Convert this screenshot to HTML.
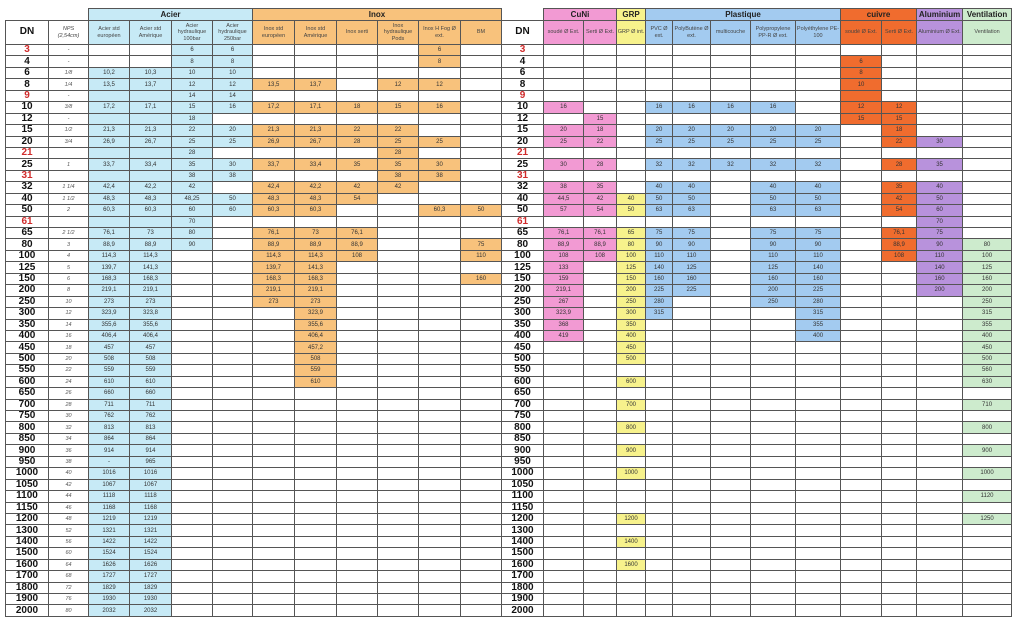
<!DOCTYPE html>
<html><head><meta charset="utf-8"><style>
html,body{margin:0;padding:0;background:#fff;width:1024px;height:629px;overflow:hidden}
table{position:absolute;top:8px;border-collapse:collapse;table-layout:fixed;font-family:"Liberation Sans",sans-serif;color:#333}
td{border:1px solid #555;padding:0;text-align:center;font-size:6px;line-height:8px;overflow:hidden;white-space:nowrap}
tr.g td{height:11px;font-size:8px;font-weight:bold;color:#222}
tr.g td.n{border:none;border-bottom:1px solid #555;background:#fff}
tr.h td{height:23px;font-size:5.5px;line-height:6.5px;white-space:normal;color:#444}
tr.h td.d{font-size:10px;font-weight:bold;color:#111}
tbody tr{height:11.45px}
td.k{font-size:10px;font-weight:bold;color:#111}
td.r{color:#d02b2b}
td.i{font-style:italic;font-size:5.5px;color:#555}
.b{background:#c7eaf6}.o{background:#f8c27c}.p{background:#f29ad3}.y{background:#f7f28c}
.l{background:#a3cbf0}.c{background:#f06c2e}.v{background:#b892dc}.g2{background:#cdebcd}
#L{left:5px;width:496px}#R{left:501px;width:510px}
</style></head><body>
<table id="L">
<colgroup><col style="width:43px"><col style="width:40px"><col style="width:41px"><col style="width:42px"><col style="width:41px"><col style="width:40px"><col style="width:42px"><col style="width:42px"><col style="width:41px"><col style="width:41px"><col style="width:42px"><col style="width:41px"></colgroup>
<tr class="g"><td class="n"></td><td class="n"></td><td colspan="4" class="b">Acier</td><td colspan="6" class="o">Inox</td></tr>
<tr class="h"><td class="d">DN</td><td style="font-style:italic">NPS<br>(2,54cm)</td><td class="b">Acier std européen</td><td class="b">Acier std Amérique</td><td class="b">Acier hydraulique 100bar</td><td class="b">Acier hydraulique 250bar</td><td class="o">Inox std européen</td><td class="o">Inox std Amérique</td><td class="o">Inox serti</td><td class="o">Inox hydraulique Pods</td><td class="o">Inox H Fog Ø ext.</td><td class="o">BM</td></tr>
<tbody>
<tr><td class="k r">3</td><td class="i">-</td><td></td><td></td><td class="b">6</td><td class="b">6</td><td></td><td></td><td></td><td></td><td class="o">6</td><td></td></tr>
<tr><td class="k">4</td><td class="i">-</td><td></td><td></td><td class="b">8</td><td class="b">8</td><td></td><td></td><td></td><td></td><td class="o">8</td><td></td></tr>
<tr><td class="k">6</td><td class="i">1/8</td><td class="b">10,2</td><td class="b">10,3</td><td class="b">10</td><td class="b">10</td><td></td><td></td><td></td><td></td><td></td><td></td></tr>
<tr><td class="k">8</td><td class="i">1/4</td><td class="b">13,5</td><td class="b">13,7</td><td class="b">12</td><td class="b">12</td><td class="o">13,5</td><td class="o">13,7</td><td></td><td class="o">12</td><td class="o">12</td><td></td></tr>
<tr><td class="k r">9</td><td class="i">-</td><td class="b"></td><td class="b"></td><td class="b">14</td><td class="b">14</td><td></td><td></td><td></td><td></td><td></td><td></td></tr>
<tr><td class="k">10</td><td class="i">3/8</td><td class="b">17,2</td><td class="b">17,1</td><td class="b">15</td><td class="b">16</td><td class="o">17,2</td><td class="o">17,1</td><td class="o">18</td><td class="o">15</td><td class="o">16</td><td></td></tr>
<tr><td class="k">12</td><td class="i">-</td><td class="b"></td><td class="b"></td><td class="b">18</td><td></td><td></td><td></td><td></td><td></td><td></td><td></td></tr>
<tr><td class="k">15</td><td class="i">1/2</td><td class="b">21,3</td><td class="b">21,3</td><td class="b">22</td><td class="b">20</td><td class="o">21,3</td><td class="o">21,3</td><td class="o">22</td><td class="o">22</td><td></td><td></td></tr>
<tr><td class="k">20</td><td class="i">3/4</td><td class="b">26,9</td><td class="b">26,7</td><td class="b">25</td><td class="b">25</td><td class="o">26,9</td><td class="o">26,7</td><td class="o">28</td><td class="o">25</td><td class="o">25</td><td></td></tr>
<tr><td class="k r">21</td><td></td><td class="b"></td><td class="b"></td><td class="b">28</td><td></td><td></td><td></td><td></td><td class="o">28</td><td></td><td></td></tr>
<tr><td class="k">25</td><td class="i">1</td><td class="b">33,7</td><td class="b">33,4</td><td class="b">35</td><td class="b">30</td><td class="o">33,7</td><td class="o">33,4</td><td class="o">35</td><td class="o">35</td><td class="o">30</td><td></td></tr>
<tr><td class="k r">31</td><td></td><td class="b"></td><td class="b"></td><td class="b">38</td><td class="b">38</td><td></td><td></td><td></td><td class="o">38</td><td class="o">38</td><td></td></tr>
<tr><td class="k">32</td><td class="i">1 1/4</td><td class="b">42,4</td><td class="b">42,2</td><td class="b">42</td><td></td><td class="o">42,4</td><td class="o">42,2</td><td class="o">42</td><td class="o">42</td><td></td><td></td></tr>
<tr><td class="k">40</td><td class="i">1 1/2</td><td class="b">48,3</td><td class="b">48,3</td><td class="b">48,25</td><td class="b">50</td><td class="o">48,3</td><td class="o">48,3</td><td class="o">54</td><td></td><td></td><td></td></tr>
<tr><td class="k">50</td><td class="i">2</td><td class="b">60,3</td><td class="b">60,3</td><td class="b">60</td><td class="b">60</td><td class="o">60,3</td><td class="o">60,3</td><td></td><td></td><td class="o">60,3</td><td class="o">50</td></tr>
<tr><td class="k r">61</td><td></td><td class="b"></td><td class="b"></td><td class="b">70</td><td></td><td></td><td></td><td></td><td></td><td></td><td></td></tr>
<tr><td class="k">65</td><td class="i">2 1/2</td><td class="b">76,1</td><td class="b">73</td><td class="b">80</td><td></td><td class="o">76,1</td><td class="o">73</td><td class="o">76,1</td><td></td><td></td><td></td></tr>
<tr><td class="k">80</td><td class="i">3</td><td class="b">88,9</td><td class="b">88,9</td><td class="b">90</td><td></td><td class="o">88,9</td><td class="o">88,9</td><td class="o">88,9</td><td></td><td></td><td class="o">75</td></tr>
<tr><td class="k">100</td><td class="i">4</td><td class="b">114,3</td><td class="b">114,3</td><td></td><td></td><td class="o">114,3</td><td class="o">114,3</td><td class="o">108</td><td></td><td></td><td class="o">110</td></tr>
<tr><td class="k">125</td><td class="i">5</td><td class="b">139,7</td><td class="b">141,3</td><td></td><td></td><td class="o">139,7</td><td class="o">141,3</td><td></td><td></td><td></td><td></td></tr>
<tr><td class="k">150</td><td class="i">6</td><td class="b">168,3</td><td class="b">168,3</td><td></td><td></td><td class="o">168,3</td><td class="o">168,3</td><td></td><td></td><td></td><td class="o">160</td></tr>
<tr><td class="k">200</td><td class="i">8</td><td class="b">219,1</td><td class="b">219,1</td><td></td><td></td><td class="o">219,1</td><td class="o">219,1</td><td></td><td></td><td></td><td></td></tr>
<tr><td class="k">250</td><td class="i">10</td><td class="b">273</td><td class="b">273</td><td></td><td></td><td class="o">273</td><td class="o">273</td><td></td><td></td><td></td><td></td></tr>
<tr><td class="k">300</td><td class="i">12</td><td class="b">323,9</td><td class="b">323,8</td><td></td><td></td><td></td><td class="o">323,9</td><td></td><td></td><td></td><td></td></tr>
<tr><td class="k">350</td><td class="i">14</td><td class="b">355,6</td><td class="b">355,6</td><td></td><td></td><td></td><td class="o">355,6</td><td></td><td></td><td></td><td></td></tr>
<tr><td class="k">400</td><td class="i">16</td><td class="b">406,4</td><td class="b">406,4</td><td></td><td></td><td></td><td class="o">406,4</td><td></td><td></td><td></td><td></td></tr>
<tr><td class="k">450</td><td class="i">18</td><td class="b">457</td><td class="b">457</td><td></td><td></td><td></td><td class="o">457,2</td><td></td><td></td><td></td><td></td></tr>
<tr><td class="k">500</td><td class="i">20</td><td class="b">508</td><td class="b">508</td><td></td><td></td><td></td><td class="o">508</td><td></td><td></td><td></td><td></td></tr>
<tr><td class="k">550</td><td class="i">22</td><td class="b">559</td><td class="b">559</td><td></td><td></td><td></td><td class="o">559</td><td></td><td></td><td></td><td></td></tr>
<tr><td class="k">600</td><td class="i">24</td><td class="b">610</td><td class="b">610</td><td></td><td></td><td></td><td class="o">610</td><td></td><td></td><td></td><td></td></tr>
<tr><td class="k">650</td><td class="i">26</td><td class="b">660</td><td class="b">660</td><td></td><td></td><td></td><td></td><td></td><td></td><td></td><td></td></tr>
<tr><td class="k">700</td><td class="i">28</td><td class="b">711</td><td class="b">711</td><td></td><td></td><td></td><td></td><td></td><td></td><td></td><td></td></tr>
<tr><td class="k">750</td><td class="i">30</td><td class="b">762</td><td class="b">762</td><td></td><td></td><td></td><td></td><td></td><td></td><td></td><td></td></tr>
<tr><td class="k">800</td><td class="i">32</td><td class="b">813</td><td class="b">813</td><td></td><td></td><td></td><td></td><td></td><td></td><td></td><td></td></tr>
<tr><td class="k">850</td><td class="i">34</td><td class="b">864</td><td class="b">864</td><td></td><td></td><td></td><td></td><td></td><td></td><td></td><td></td></tr>
<tr><td class="k">900</td><td class="i">36</td><td class="b">914</td><td class="b">914</td><td></td><td></td><td></td><td></td><td></td><td></td><td></td><td></td></tr>
<tr><td class="k">950</td><td class="i">38</td><td class="b">-</td><td class="b">965</td><td></td><td></td><td></td><td></td><td></td><td></td><td></td><td></td></tr>
<tr><td class="k">1000</td><td class="i">40</td><td class="b">1016</td><td class="b">1016</td><td></td><td></td><td></td><td></td><td></td><td></td><td></td><td></td></tr>
<tr><td class="k">1050</td><td class="i">42</td><td class="b">1067</td><td class="b">1067</td><td></td><td></td><td></td><td></td><td></td><td></td><td></td><td></td></tr>
<tr><td class="k">1100</td><td class="i">44</td><td class="b">1118</td><td class="b">1118</td><td></td><td></td><td></td><td></td><td></td><td></td><td></td><td></td></tr>
<tr><td class="k">1150</td><td class="i">46</td><td class="b">1168</td><td class="b">1168</td><td></td><td></td><td></td><td></td><td></td><td></td><td></td><td></td></tr>
<tr><td class="k">1200</td><td class="i">48</td><td class="b">1219</td><td class="b">1219</td><td></td><td></td><td></td><td></td><td></td><td></td><td></td><td></td></tr>
<tr><td class="k">1300</td><td class="i">52</td><td class="b">1321</td><td class="b">1321</td><td></td><td></td><td></td><td></td><td></td><td></td><td></td><td></td></tr>
<tr><td class="k">1400</td><td class="i">56</td><td class="b">1422</td><td class="b">1422</td><td></td><td></td><td></td><td></td><td></td><td></td><td></td><td></td></tr>
<tr><td class="k">1500</td><td class="i">60</td><td class="b">1524</td><td class="b">1524</td><td></td><td></td><td></td><td></td><td></td><td></td><td></td><td></td></tr>
<tr><td class="k">1600</td><td class="i">64</td><td class="b">1626</td><td class="b">1626</td><td></td><td></td><td></td><td></td><td></td><td></td><td></td><td></td></tr>
<tr><td class="k">1700</td><td class="i">68</td><td class="b">1727</td><td class="b">1727</td><td></td><td></td><td></td><td></td><td></td><td></td><td></td><td></td></tr>
<tr><td class="k">1800</td><td class="i">72</td><td class="b">1829</td><td class="b">1829</td><td></td><td></td><td></td><td></td><td></td><td></td><td></td><td></td></tr>
<tr><td class="k">1900</td><td class="i">76</td><td class="b">1930</td><td class="b">1930</td><td></td><td></td><td></td><td></td><td></td><td></td><td></td><td></td></tr>
<tr><td class="k">2000</td><td class="i">80</td><td class="b">2032</td><td class="b">2032</td><td></td><td></td><td></td><td></td><td></td><td></td><td></td><td></td></tr>
</tbody></table>

<table id="R">
<colgroup><col style="width:42px"><col style="width:40px"><col style="width:33px"><col style="width:29px"><col style="width:27px"><col style="width:38px"><col style="width:40px"><col style="width:45px"><col style="width:45px"><col style="width:41px"><col style="width:35px"><col style="width:46px"><col style="width:49px"></colgroup>
<tr class="g"><td class="n"></td><td colspan="2" class="p">CuNi</td><td class="y">GRP</td><td colspan="5" class="l">Plastique</td><td colspan="2" class="c">cuivre</td><td class="v">Aluminium</td><td class="g2">Ventilation</td></tr>
<tr class="h"><td class="d">DN</td><td class="p">soudé Ø Ext.</td><td class="p">Serti Ø Ext.</td><td class="y">GRP Ø int.</td><td class="l">PVC Ø ext.</td><td class="l">PolyButène Ø ext.</td><td class="l">multicouche</td><td class="l">Polypropylene PP-R Ø ext.</td><td class="l">Polyéthylene PE-100</td><td class="c">soudé Ø Ext.</td><td class="c">Serti Ø Ext.</td><td class="v">Aluminium Ø Ext.</td><td class="g2">Ventilation</td></tr>
<tbody>
<tr><td class="k r">3</td><td></td><td></td><td></td><td></td><td></td><td></td><td></td><td></td><td></td><td></td><td></td><td></td></tr>
<tr><td class="k">4</td><td></td><td></td><td></td><td></td><td></td><td></td><td></td><td></td><td class="c">6</td><td></td><td></td><td></td></tr>
<tr><td class="k">6</td><td></td><td></td><td></td><td></td><td></td><td></td><td></td><td></td><td class="c">8</td><td></td><td></td><td></td></tr>
<tr><td class="k">8</td><td></td><td></td><td></td><td></td><td></td><td></td><td></td><td></td><td class="c">10</td><td></td><td></td><td></td></tr>
<tr><td class="k r">9</td><td></td><td></td><td></td><td></td><td></td><td></td><td></td><td></td><td class="c"></td><td></td><td></td><td></td></tr>
<tr><td class="k">10</td><td class="p">16</td><td></td><td></td><td class="l">16</td><td class="l">16</td><td class="l">16</td><td class="l">16</td><td></td><td class="c">12</td><td class="c">12</td><td></td><td></td></tr>
<tr><td class="k">12</td><td></td><td class="p">15</td><td></td><td></td><td></td><td></td><td></td><td></td><td class="c">15</td><td class="c">15</td><td></td><td></td></tr>
<tr><td class="k">15</td><td class="p">20</td><td class="p">18</td><td></td><td class="l">20</td><td class="l">20</td><td class="l">20</td><td class="l">20</td><td class="l">20</td><td></td><td class="c">18</td><td></td><td></td></tr>
<tr><td class="k">20</td><td class="p">25</td><td class="p">22</td><td></td><td class="l">25</td><td class="l">25</td><td class="l">25</td><td class="l">25</td><td class="l">25</td><td></td><td class="c">22</td><td class="v">30</td><td></td></tr>
<tr><td class="k r">21</td><td></td><td></td><td></td><td></td><td></td><td></td><td></td><td></td><td></td><td></td><td></td><td></td></tr>
<tr><td class="k">25</td><td class="p">30</td><td class="p">28</td><td></td><td class="l">32</td><td class="l">32</td><td class="l">32</td><td class="l">32</td><td class="l">32</td><td></td><td class="c">28</td><td class="v">35</td><td></td></tr>
<tr><td class="k r">31</td><td></td><td></td><td></td><td></td><td></td><td></td><td></td><td></td><td></td><td></td><td></td><td></td></tr>
<tr><td class="k">32</td><td class="p">38</td><td class="p">35</td><td></td><td class="l">40</td><td class="l">40</td><td></td><td class="l">40</td><td class="l">40</td><td></td><td class="c">35</td><td class="v">40</td><td></td></tr>
<tr><td class="k">40</td><td class="p">44,5</td><td class="p">42</td><td class="y">40</td><td class="l">50</td><td class="l">50</td><td></td><td class="l">50</td><td class="l">50</td><td></td><td class="c">42</td><td class="v">50</td><td></td></tr>
<tr><td class="k">50</td><td class="p">57</td><td class="p">54</td><td class="y">50</td><td class="l">63</td><td class="l">63</td><td></td><td class="l">63</td><td class="l">63</td><td></td><td class="c">54</td><td class="v">60</td><td></td></tr>
<tr><td class="k r">61</td><td></td><td></td><td></td><td></td><td></td><td></td><td></td><td></td><td></td><td></td><td class="v">70</td><td></td></tr>
<tr><td class="k">65</td><td class="p">76,1</td><td class="p">76,1</td><td class="y">65</td><td class="l">75</td><td class="l">75</td><td></td><td class="l">75</td><td class="l">75</td><td></td><td class="c">76,1</td><td class="v">75</td><td></td></tr>
<tr><td class="k">80</td><td class="p">88,9</td><td class="p">88,9</td><td class="y">80</td><td class="l">90</td><td class="l">90</td><td></td><td class="l">90</td><td class="l">90</td><td></td><td class="c">88,9</td><td class="v">90</td><td class="g2">80</td></tr>
<tr><td class="k">100</td><td class="p">108</td><td class="p">108</td><td class="y">100</td><td class="l">110</td><td class="l">110</td><td></td><td class="l">110</td><td class="l">110</td><td></td><td class="c">108</td><td class="v">110</td><td class="g2">100</td></tr>
<tr><td class="k">125</td><td class="p">133</td><td></td><td class="y">125</td><td class="l">140</td><td class="l">125</td><td></td><td class="l">125</td><td class="l">140</td><td></td><td></td><td class="v">140</td><td class="g2">125</td></tr>
<tr><td class="k">150</td><td class="p">159</td><td></td><td class="y">150</td><td class="l">160</td><td class="l">160</td><td></td><td class="l">160</td><td class="l">160</td><td></td><td></td><td class="v">160</td><td class="g2">160</td></tr>
<tr><td class="k">200</td><td class="p">219,1</td><td></td><td class="y">200</td><td class="l">225</td><td class="l">225</td><td></td><td class="l">200</td><td class="l">225</td><td></td><td></td><td class="v">200</td><td class="g2">200</td></tr>
<tr><td class="k">250</td><td class="p">267</td><td></td><td class="y">250</td><td class="l">280</td><td></td><td></td><td class="l">250</td><td class="l">280</td><td></td><td></td><td></td><td class="g2">250</td></tr>
<tr><td class="k">300</td><td class="p">323,9</td><td></td><td class="y">300</td><td class="l">315</td><td></td><td></td><td></td><td class="l">315</td><td></td><td></td><td></td><td class="g2">315</td></tr>
<tr><td class="k">350</td><td class="p">368</td><td></td><td class="y">350</td><td></td><td></td><td></td><td></td><td class="l">355</td><td></td><td></td><td></td><td class="g2">355</td></tr>
<tr><td class="k">400</td><td class="p">419</td><td></td><td class="y">400</td><td></td><td></td><td></td><td></td><td class="l">400</td><td></td><td></td><td></td><td class="g2">400</td></tr>
<tr><td class="k">450</td><td></td><td></td><td class="y">450</td><td></td><td></td><td></td><td></td><td></td><td></td><td></td><td></td><td class="g2">450</td></tr>
<tr><td class="k">500</td><td></td><td></td><td class="y">500</td><td></td><td></td><td></td><td></td><td></td><td></td><td></td><td></td><td class="g2">500</td></tr>
<tr><td class="k">550</td><td></td><td></td><td></td><td></td><td></td><td></td><td></td><td></td><td></td><td></td><td></td><td class="g2">560</td></tr>
<tr><td class="k">600</td><td></td><td></td><td class="y">600</td><td></td><td></td><td></td><td></td><td></td><td></td><td></td><td></td><td class="g2">630</td></tr>
<tr><td class="k">650</td><td></td><td></td><td></td><td></td><td></td><td></td><td></td><td></td><td></td><td></td><td></td><td></td></tr>
<tr><td class="k">700</td><td></td><td></td><td class="y">700</td><td></td><td></td><td></td><td></td><td></td><td></td><td></td><td></td><td class="g2">710</td></tr>
<tr><td class="k">750</td><td></td><td></td><td></td><td></td><td></td><td></td><td></td><td></td><td></td><td></td><td></td><td></td></tr>
<tr><td class="k">800</td><td></td><td></td><td class="y">800</td><td></td><td></td><td></td><td></td><td></td><td></td><td></td><td></td><td class="g2">800</td></tr>
<tr><td class="k">850</td><td></td><td></td><td></td><td></td><td></td><td></td><td></td><td></td><td></td><td></td><td></td><td></td></tr>
<tr><td class="k">900</td><td></td><td></td><td class="y">900</td><td></td><td></td><td></td><td></td><td></td><td></td><td></td><td></td><td class="g2">900</td></tr>
<tr><td class="k">950</td><td></td><td></td><td></td><td></td><td></td><td></td><td></td><td></td><td></td><td></td><td></td><td></td></tr>
<tr><td class="k">1000</td><td></td><td></td><td class="y">1000</td><td></td><td></td><td></td><td></td><td></td><td></td><td></td><td></td><td class="g2">1000</td></tr>
<tr><td class="k">1050</td><td></td><td></td><td></td><td></td><td></td><td></td><td></td><td></td><td></td><td></td><td></td><td></td></tr>
<tr><td class="k">1100</td><td></td><td></td><td></td><td></td><td></td><td></td><td></td><td></td><td></td><td></td><td></td><td class="g2">1120</td></tr>
<tr><td class="k">1150</td><td></td><td></td><td></td><td></td><td></td><td></td><td></td><td></td><td></td><td></td><td></td><td></td></tr>
<tr><td class="k">1200</td><td></td><td></td><td class="y">1200</td><td></td><td></td><td></td><td></td><td></td><td></td><td></td><td></td><td class="g2">1250</td></tr>
<tr><td class="k">1300</td><td></td><td></td><td></td><td></td><td></td><td></td><td></td><td></td><td></td><td></td><td></td><td></td></tr>
<tr><td class="k">1400</td><td></td><td></td><td class="y">1400</td><td></td><td></td><td></td><td></td><td></td><td></td><td></td><td></td><td></td></tr>
<tr><td class="k">1500</td><td></td><td></td><td></td><td></td><td></td><td></td><td></td><td></td><td></td><td></td><td></td><td></td></tr>
<tr><td class="k">1600</td><td></td><td></td><td class="y">1600</td><td></td><td></td><td></td><td></td><td></td><td></td><td></td><td></td><td></td></tr>
<tr><td class="k">1700</td><td></td><td></td><td></td><td></td><td></td><td></td><td></td><td></td><td></td><td></td><td></td><td></td></tr>
<tr><td class="k">1800</td><td></td><td></td><td></td><td></td><td></td><td></td><td></td><td></td><td></td><td></td><td></td><td></td></tr>
<tr><td class="k">1900</td><td></td><td></td><td></td><td></td><td></td><td></td><td></td><td></td><td></td><td></td><td></td><td></td></tr>
<tr><td class="k">2000</td><td></td><td></td><td></td><td></td><td></td><td></td><td></td><td></td><td></td><td></td><td></td><td></td></tr>
</tbody></table>
</body></html>
